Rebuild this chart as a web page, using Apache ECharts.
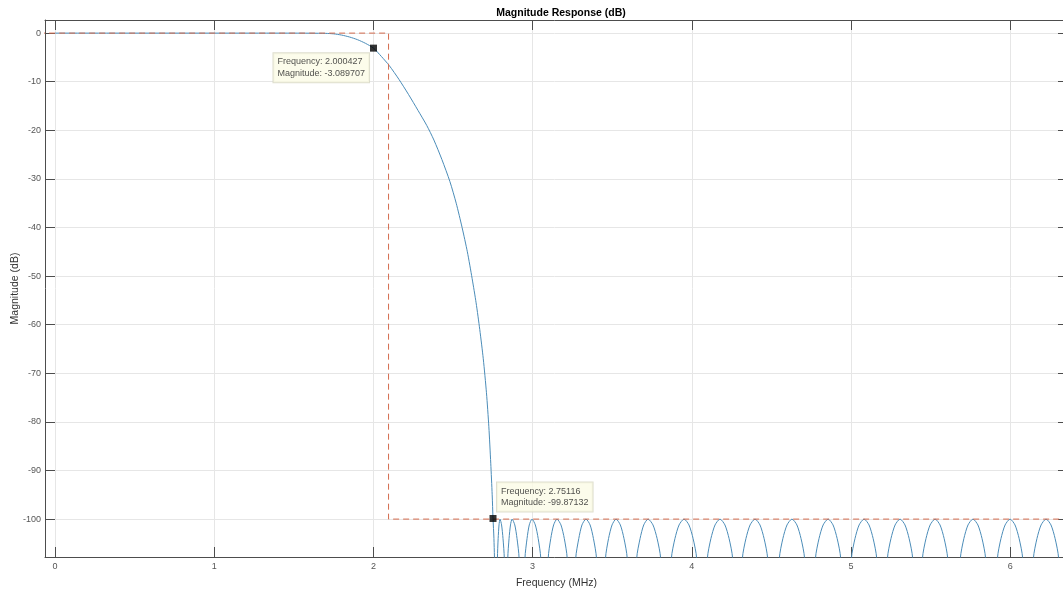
<!DOCTYPE html>
<html>
<head>
<meta charset="utf-8">
<title>Magnitude Response (dB)</title>
<script src="https://cdn.jsdelivr.net/npm/echarts@6/dist/echarts.min.js"></script>
<style>
	html,body{margin:0;padding:0;background:#fff;}
	#tu_1{width:1063px;height:592px;}
</style>
</head>
<body>
<div id="tu_1"></div>
<script>
// passband + transition band, [MHz, dB]
var passbandResp = [
	[0,0],[1.5,0],[1.7,-0.05],[1.75,-0.15],[1.8,-0.4],[1.85,-0.8],[1.9,-1.35],[1.95,-2.1],
	[2.000427,-3.089707],[2.05,-4.8],[2.1,-6.7],[2.16,-9.5],[2.22,-12.6],[2.28,-15.9],
	[2.335,-19.0],[2.38,-22.0],[2.43,-26.0],[2.48,-30.5],[2.52,-35.0],[2.557,-40.0],
	[2.59,-45.0],[2.62,-50.5],[2.645,-55.5],[2.668,-61.0],[2.69,-67.0],[2.71,-74.0],
	[2.725,-81.0],[2.737,-88.5],[2.746,-95.0],[2.75116,-99.87132],[2.757,-104],[2.763,-112]
];
// stopband lobes (nulls go below the axis and get clipped)
var stopbandResp = [
	[2.772,-140],[2.779,-108],[2.7835,-104],[2.789,-101.2],[2.795,-100],[2.805,-101.2],[2.814,-104],[2.822,-108],
	[2.833,-140],[2.844,-108],[2.852,-104],[2.861,-101.2],[2.871,-100],[2.888,-101.2],[2.902,-104],[2.915,-108],
	[2.934,-140],[2.952,-108],[2.965,-104],[2.979,-101.2],[2.996,-100],[3.017,-101.2],[3.035,-104],[3.051,-108],
	[3.075,-140],[3.098,-108],[3.114,-104],[3.132,-101.2],[3.153,-100],[3.178,-101.2],[3.199,-104],[3.217,-108],
	[3.244,-140],[3.271,-108],[3.290,-104],[3.310,-101.2],[3.335,-100],[3.361,-101.2],[3.382,-104],[3.401,-108],
	[3.430,-140],[3.458,-108],[3.477,-104],[3.499,-101.2],[3.524,-100],[3.551,-101.2],[3.574,-104],[3.594,-108],
	[3.625,-140],[3.654,-108],[3.675,-104],[3.698,-101.2],[3.725,-100],[3.756,-101.2],[3.782,-104],[3.804,-108],
	[3.838,-140],[3.872,-108],[3.894,-104],[3.920,-101.2],[3.951,-100],[3.982,-101.2],[4.008,-104],[4.030,-108],
	[4.064,-140],[4.098,-108],[4.120,-104],[4.146,-101.2],[4.177,-100],[4.208,-101.2],[4.234,-104],[4.256,-108],
	[4.287,-140],[4.318,-108],[4.340,-104],[4.366,-101.2],[4.397,-100],[4.428,-101.2],[4.454,-104],[4.476,-108],
	[4.513,-140],[4.550,-108],[4.572,-104],[4.598,-101.2],[4.629,-100],[4.660,-101.2],[4.686,-104],[4.708,-108],
	[4.743,-140],[4.777,-108],[4.799,-104],[4.825,-101.2],[4.856,-100],[4.887,-101.2],[4.913,-104],[4.935,-108],
	[4.969,-140],[5.003,-108],[5.025,-104],[5.051,-101.2],[5.082,-100],[5.113,-101.2],[5.139,-104],[5.161,-108],
	[5.195,-140],[5.229,-108],[5.251,-104],[5.277,-101.2],[5.308,-100],[5.339,-101.2],[5.365,-104],[5.387,-108],
	[5.418,-140],[5.449,-108],[5.471,-104],[5.497,-101.2],[5.528,-100],[5.559,-101.2],[5.585,-104],[5.607,-108],
	[5.647,-140],[5.687,-108],[5.709,-104],[5.735,-101.2],[5.766,-100],[5.797,-101.2],[5.823,-104],[5.845,-108],
	[5.883,-140],[5.920,-108],[5.942,-104],[5.968,-101.2],[5.999,-100],[6.030,-101.2],[6.056,-104],[6.078,-108],
	[6.112,-140],[6.146,-108],[6.168,-104],[6.194,-101.2],[6.225,-100],[6.256,-101.2],[6.282,-104],[6.304,-108],
	[6.340,-140]
];
// spec mask (dashed)
var maskFreq = [-0.1, 2.095, 2.095, 6.5];
var maskMag = [0, 0, -100, -100];
// data tips
var tipFreq = [2.000427, 2.75116];
var tipMag = [-3.089707, -99.87132];
// axis ticks
var xTicks = [0,1,2,3,4,5,6];
var yTicks = [0,-10,-20,-30,-40,-50,-60,-70,-80,-90,-100];

var xMin = -0.063, xMax = 6.363;
var yMin = -107.8, yMax = 2.7;
var axisCol = '#4d4d4d';

var myChart_1;
window.onresize = function () {
	if (myChart_1) { myChart_1.resize(); }
};

function a1(){
	myChart_1 = echarts.init(document.getElementById('tu_1'));

	var maskData = [];
	for (var i = 0; i < maskFreq.length; i++) {
		maskData.push([maskFreq[i], maskMag[i]]);
	}
	// label boxes: first sits lower-left of its marker, second upper-right
	var tipPos = [[-96.5, 8.5], [7.5, -32.5]];
	var tipData = [];
	for (var j = 0; j < tipFreq.length; j++) {
		tipData.push({
			value: [tipFreq[j], tipMag[j]],
			label: {position: tipPos[j]}
		});
	}

	var option = {
		animation: false,
		textStyle: {fontFamily: 'Liberation Sans, Arial, sans-serif'},
		title: {
			text: 'Magnitude Response (dB)',
			left: 556,
			top: 3,
			textAlign: 'center',
			textStyle: {fontSize: 10.5, fontWeight: 'bold', color: '#000'}
		},
		grid: {left: 45, top: 20, right: -5, bottom: 35, outerBoundsMode: 'none', containLabel: false},
		xAxis: [
			{
				type: 'value', position: 'bottom', min: xMin, max: xMax,
				name: 'Frequency (MHz)', nameLocation: 'middle', nameGap: 21,
				nameTextStyle: {fontSize: 10.5, color: '#333'},
				axisLine: {onZero: false, lineStyle: {color: axisCol, width: 1}},
				axisTick: {inside: true, length: 10, customValues: xTicks, lineStyle: {color: axisCol}},
				axisLabel: {customValues: xTicks, fontSize: 9, color: '#555', margin: 5},
				splitLine: {show: true, lineStyle: {color: '#e6e6e6', width: 1}}
			},
			{
				type: 'value', position: 'top', min: xMin, max: xMax,
				axisLine: {onZero: false, lineStyle: {color: axisCol, width: 1}},
				axisTick: {inside: true, length: 10, customValues: xTicks, lineStyle: {color: axisCol}},
				axisLabel: {show: false},
				splitLine: {show: false}
			}
		],
		yAxis: [
			{
				type: 'value', position: 'left', min: yMin, max: yMax,
				name: 'Magnitude (dB)', nameLocation: 'middle', nameGap: 24,
				nameMoveOverlap: false,
				nameTextStyle: {fontSize: 10.5, color: '#333'},
				axisLine: {show: true, onZero: false, lineStyle: {color: axisCol, width: 1}},
				axisTick: {show: true, inside: true, length: 10, customValues: yTicks, lineStyle: {color: axisCol}},
				axisLabel: {customValues: yTicks, fontSize: 9, color: '#555', margin: 4},
				splitLine: {show: true, lineStyle: {color: '#e6e6e6', width: 1}}
			},
			{
				type: 'value', position: 'right', min: yMin, max: yMax,
				axisLine: {show: true, onZero: false, lineStyle: {color: axisCol, width: 1}},
				axisTick: {show: true, inside: true, length: 10, customValues: yTicks, lineStyle: {color: axisCol}},
				axisLabel: {show: false},
				splitLine: {show: false}
			}
		],
		series: [
			{
				name: 'response', type: 'line',
				xAxisIndex: 0, yAxisIndex: 0,
				showSymbol: false, smooth: 0.25,
				lineStyle: {color: '#4b8cb8', width: 1},
				data: passbandResp.concat(stopbandResp)
			},
			{
				name: 'mask', type: 'line',
				xAxisIndex: 0, yAxisIndex: 0,
				showSymbol: false,
				lineStyle: {color: '#d36b4e', width: 1, type: [6, 4]},
				data: maskData
			},
			{
				name: 'datatip', type: 'scatter',
				xAxisIndex: 0, yAxisIndex: 0,
				symbol: 'rect', symbolSize: 7, z: 5,
				itemStyle: {color: '#000'},
				label: {
					show: true,
					formatter: function (p) {
						return 'Frequency: ' + p.value[0] + '\nMagnitude: ' + p.value[1];
					},
					fontSize: 9, lineHeight: 11.5, color: '#262626',
					backgroundColor: '#fbfbe6', borderColor: '#d6d6c2', borderWidth: 1,
					padding: [3, 4]
				},
				emphasis: {disabled: true},
				data: tipData
			}
		]
	};
	myChart_1.setOption(option);
}
a1();
</script>
</body>
</html>
